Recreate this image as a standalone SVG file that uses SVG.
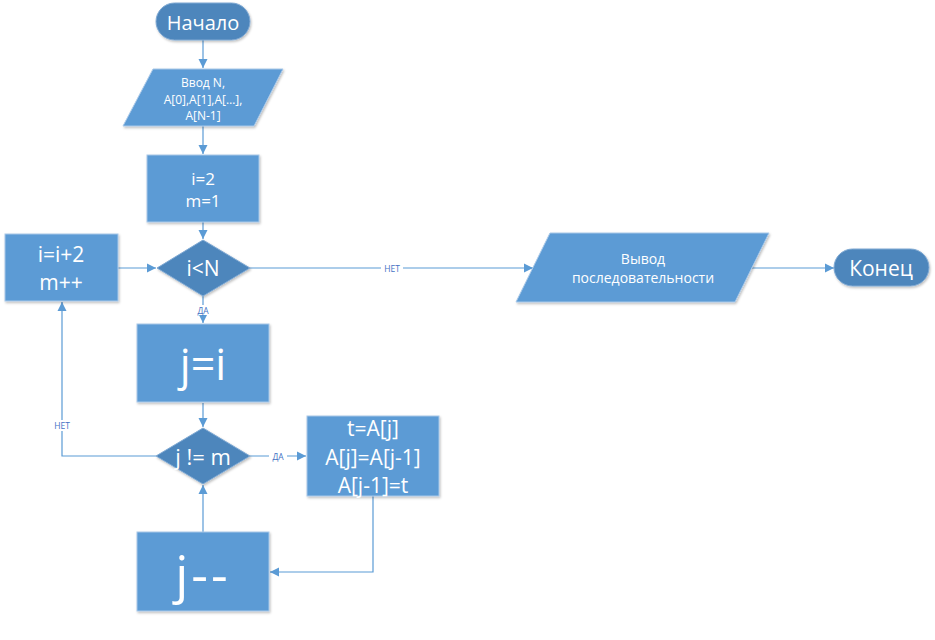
<svg xmlns="http://www.w3.org/2000/svg" width="935" height="640" viewBox="0 0 935 640">
<defs>
<filter id="sh" x="-10%" y="-10%" width="125%" height="130%">
<feDropShadow dx="1" dy="1.5" stdDeviation="1.2" flood-color="#000" flood-opacity="0.25"/>
</filter>
<marker id="ar" markerWidth="10" markerHeight="10" refX="9" refY="5" orient="auto" markerUnits="userSpaceOnUse">
<path d="M0,0.5 L9,5 L0,9.5 Z" fill="#5B9BD5"/>
</marker>
<style>
.lt{fill:#5B9BD5;stroke:#A9C8E8;stroke-width:1;filter:url(#sh)}
.dk{fill:#4E86BC;stroke:#7FA9D3;stroke-width:1;filter:url(#sh)}
.t{font-family:"Open Sans","Noto Sans","DejaVu Sans",sans-serif;fill:#FFFFFF;text-anchor:middle;dominant-baseline:central}
.c{fill:none;stroke:#5B9BD5;stroke-width:1.2}
.lb{font-family:"Open Sans","Noto Sans","DejaVu Sans",sans-serif;fill:#4472C4;font-size:8.5px;text-anchor:middle;dominant-baseline:central}
</style>
</defs>
<rect width="935" height="640" fill="#FFFFFF"/>
<g id="connectors">
<path class="c" d="M203,40 V68" marker-end="url(#ar)"/>
<path class="c" d="M203,126 V154" marker-end="url(#ar)"/>
<path class="c" d="M203,222 V239" marker-end="url(#ar)"/>
<path class="c" d="M118,268 H156" marker-end="url(#ar)"/>
<path class="c" d="M203,296 V323" marker-end="url(#ar)"/>
<path class="c" d="M250,268 H533" marker-end="url(#ar)"/>
<path class="c" d="M752,268 H834" marker-end="url(#ar)"/>
<path class="c" d="M203,403 V427" marker-end="url(#ar)"/>
<path class="c" d="M250,456 H306" marker-end="url(#ar)"/>
<path class="c" d="M156,456 H62 V302" marker-end="url(#ar)"/>
<path class="c" d="M373,496 V572 H270" marker-end="url(#ar)"/>
<path class="c" d="M203,532 V485" marker-end="url(#ar)"/>
<rect x="381" y="262" width="22" height="11" fill="#FFFFFF"/>
<text class="lb" x="392" y="268">НЕТ</text>
<rect x="194" y="305" width="18" height="10" fill="#FFFFFF"/>
<text class="lb" x="203" y="310">ДА</text>
<rect x="269" y="451" width="18" height="10" fill="#FFFFFF"/>
<text class="lb" x="278" y="456">ДА</text>
<rect x="50" y="420" width="24" height="11" fill="#FFFFFF"/>
<text class="lb" x="62" y="425">НЕТ</text>
</g>
<g id="start">
<rect class="dk" x="156" y="3" width="94" height="37" rx="18.5"/>
<text class="t" x="203" y="22" font-size="20">Начало</text>
</g>
<g id="input">
<polygon class="lt" points="153,69 283,69 254,126 123,126"/>
<text class="t" x="203" y="82" font-size="12">Ввод N,</text>
<text class="t" x="203" y="99" font-size="12">A[0],A[1],A[…],</text>
<text class="t" x="203" y="115" font-size="12">A[N-1]</text>
</g>
<g id="init">
<rect class="lt" x="147" y="155" width="112" height="67"/>
<text class="t" x="203" y="178" font-size="17">i=2</text>
<text class="t" x="203" y="200" font-size="17">m=1</text>
</g>
<g id="cond1">
<polygon class="dk" points="203,240 250,268 203,296 157,268"/>
<text class="t" x="203" y="268" font-size="21">i&lt;N</text>
</g>
<g id="inc">
<rect class="lt" x="5" y="234" width="113" height="67"/>
<text class="t" x="61" y="254" font-size="21">i=i+2</text>
<text class="t" x="61" y="282" font-size="21">m++</text>
</g>
<g id="output">
<polygon class="lt" points="550,233 769,233 735,302 516,302"/>
<text class="t" x="643" y="258" font-size="14">Вывод</text>
<text class="t" x="643" y="277" font-size="14">последовательности</text>
</g>
<g id="end">
<rect class="dk" x="834" y="249" width="95" height="37" rx="18.5"/>
<text class="t" x="881" y="268" font-size="21">Конец</text>
</g>
<g id="jassign">
<rect class="lt" x="137" y="324" width="132" height="78"/>
<text class="t" x="203" y="363" font-size="43">j=i</text>
</g>
<g id="cond2">
<polygon class="dk" points="203,428 250,456 203,484 156,456"/>
<text class="t" x="203" y="456" font-size="22">j != m</text>
</g>
<g id="swap">
<rect class="lt" x="307" y="416" width="132" height="80"/>
<text class="t" x="373" y="428" font-size="21">t=A[j]</text>
<text class="t" x="373" y="457" font-size="21">A[j]=A[j-1]</text>
<text class="t" x="373" y="485" font-size="21">A[j-1]=t</text>
</g>
<g id="dec">
<rect class="lt" x="137" y="532" width="132" height="79"/>
<text class="t" x="203" y="572" font-size="52" letter-spacing="3">j--</text>
</g>
</svg>
